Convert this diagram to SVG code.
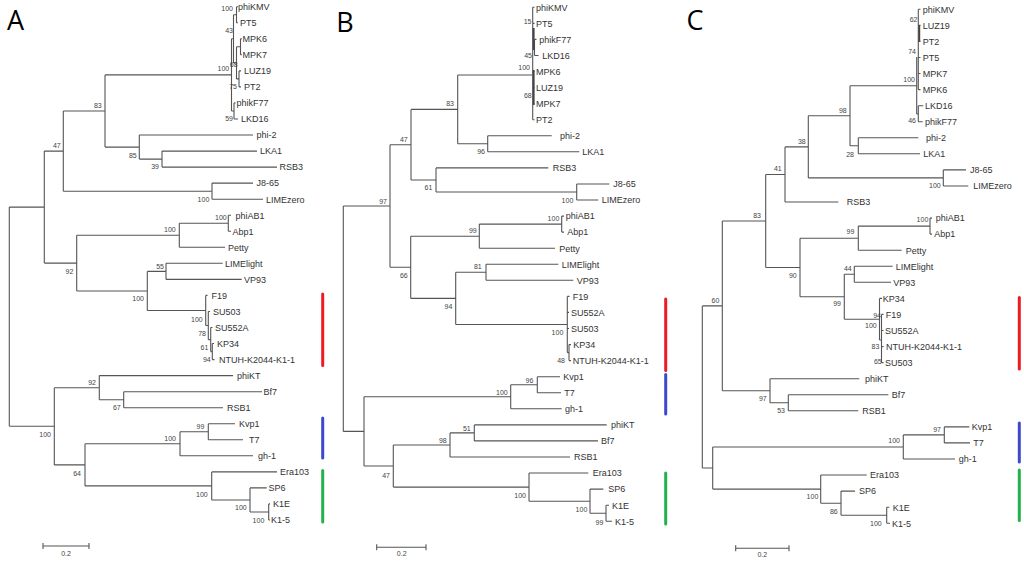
<svg xmlns="http://www.w3.org/2000/svg" width="1024" height="563" viewBox="0 0 1024 563">
<style>
.t{fill:none;stroke:#555;stroke-width:1.1}
.tk{fill:none;stroke:#444;stroke-width:1.8}
.lf{font-family:"Liberation Sans",Arial,sans-serif;font-size:9px;fill:#333}
.bs{font-family:"Liberation Sans",Arial,sans-serif;font-size:7px;fill:#444;text-anchor:end}
.sc{font-family:"Liberation Sans",Arial,sans-serif;font-size:7px;fill:#444;text-anchor:middle}
.pl{font-family:"Open Sans","Liberation Sans",Arial,sans-serif;font-size:27px;fill:#000;text-anchor:middle}
.bar{fill:none;stroke-width:3;stroke-linecap:round}
</style>
<rect width="1024" height="563" fill="#fff"/>

<!-- ============ PANEL A ============ -->
<g id="panelA">
<text class="pl" x="15.5" y="30">A</text>
<g id="A-connectors">
<path class="t" d="M9.3 207.1V426.3M9.3 207.1H44.3M9.3 426.3H54.3
M44.3 151.1V263.1M44.3 151.1H63.3M44.3 263.1H76.7
M63.3 111V191.2M63.3 111H105M63.3 191.2H212
M105 74.9V147.1M105 74.9H231.5M105 147.1H139.3
M231.5 38.8V111M231.5 38.8H233.5M231.5 111H234
M233.5 14.7V62.9M233.5 14.7H236.5M233.5 62.9H236.5
M236.5 6.7V22.7M236.5 6.7H238M236.5 22.7H238
M236.5 46.8V78.9M236.5 46.8H240.5M236.5 78.9H239
M240.5 38.8V54.8M240.5 38.8H242M240.5 54.8H242
M239 70.9V86.9M239 70.9H241M239 86.9H241
M234 102.9V119M234 102.9H235.5M234 119H238
M139.3 135V159.1M139.3 135H253M139.3 159.1H162
M162 151.1V167.1M162 151.1H257M162 167.1H277
M212 183.1V199.2M212 183.1H253M212 199.2H263
M76.7 235.3V291M76.7 235.3H179.3M76.7 291H147.3
M179.3 223.3V247.3M179.3 223.3H228.3M179.3 247.3H225
M228.3 215.2V231.3M228.3 215.2H231M228.3 231.3H231
M147.3 271.4V310.5M147.3 271.4H166M147.3 310.5H205.7
M166 263.3V279.4M166 263.3H222.7M166 279.4H241.7
M205.7 295.4V325.5M205.7 295.4H207.5M205.7 325.5H208.3
M208.3 311.5V339.6M208.3 311.5H210M208.3 339.6H210.7
M210.7 327.5V351.6M210.7 327.5H212.5M210.7 351.6H212.3
M212.3 343.5V359.6M212.3 343.5H214M212.3 359.6H214.5
M54.3 387.7V464.9M54.3 387.7H99.3M54.3 464.9H85
M99.3 375.6V399.7M99.3 375.6H233M99.3 399.7H123.7
M123.7 391.7V407.7M123.7 391.7H262M123.7 407.7H223
M85 443.8V485.9M85 443.8H180M85 485.9H211.7
M180 431.8V455.8M180 431.8H208.3M180 455.8H253
M208.3 423.7V439.8M208.3 423.7H235M208.3 439.8H243
M211.7 471.9V500M211.7 471.9H277M211.7 500H250
M250 487.9V512M250 487.9H266.7M250 512H268.7
M268.7 503.9V520M268.7 503.9H270M268.7 520H270
M43 546H89M43 543V549M89 543V549"/>
</g>
<g id="A-support">
<text class="bs" x="233" y="10.5">100</text>
<text class="bs" x="233" y="33.2">43</text>
<text class="bs" x="229.2" y="71">100</text>
<text class="bs" x="237.6" y="66.5">68</text>
<text class="bs" x="237" y="88.5">75</text>
<text class="bs" x="233" y="120.5">59</text>
<text class="bs" x="101.7" y="107.5">83</text>
<text class="bs" x="60.7" y="147.5">47</text>
<text class="bs" x="136.7" y="157.5">85</text>
<text class="bs" x="159" y="169.2">39</text>
<text class="bs" x="209.3" y="201.5">100</text>
<text class="bs" x="226.7" y="219.8">100</text>
<text class="bs" x="175.7" y="231.8">100</text>
<text class="bs" x="73.3" y="273.5">92</text>
<text class="bs" x="164" y="268.5">55</text>
<text class="bs" x="144" y="300.8">100</text>
<text class="bs" x="202.7" y="321.5">100</text>
<text class="bs" x="206" y="335.8">78</text>
<text class="bs" x="208.3" y="349.8">61</text>
<text class="bs" x="210.7" y="361.5">94</text>
<text class="bs" x="96" y="384.8">92</text>
<text class="bs" x="120.7" y="410.2">67</text>
<text class="bs" x="51" y="436.5">100</text>
<text class="bs" x="204.3" y="428.5">99</text>
<text class="bs" x="176" y="440.8">100</text>
<text class="bs" x="81" y="475.8">64</text>
<text class="bs" x="207.7" y="496.5">100</text>
<text class="bs" x="246.7" y="510.2">100</text>
<text class="bs" x="264.3" y="523.2">100</text>
<text class="sc" x="66" y="555.5">0.2</text>
</g>
<g id="A-phiKMV"><text class="lf" x="238" y="10">phiKMV</text></g>
<g id="A-PT5"><text class="lf" x="240" y="26">PT5</text></g>
<g id="A-MPK6"><text class="lf" x="242.5" y="42.1">MPK6</text></g>
<g id="A-MPK7"><text class="lf" x="242.5" y="58.1">MPK7</text></g>
<g id="A-LUZ19"><text class="lf" x="244" y="74.2">LUZ19</text></g>
<g id="A-PT2"><text class="lf" x="244" y="90.2">PT2</text></g>
<g id="A-phikF77"><text class="lf" x="236.5" y="106.2">phikF77</text></g>
<g id="A-LKD16"><text class="lf" x="241" y="122.3">LKD16</text></g>
<g id="A-phi-2"><text class="lf" x="256.5" y="138.3">phi-2</text></g>
<g id="A-LKA1"><text class="lf" x="260" y="154.4">LKA1</text></g>
<g id="A-RSB3"><text class="lf" x="279.5" y="170.4">RSB3</text></g>
<g id="A-J8-65"><text class="lf" x="256.5" y="186.4">J8-65</text></g>
<g id="A-LIMEzero"><text class="lf" x="266" y="202.5">LIMEzero</text></g>
<g id="A-phiAB1"><text class="lf" x="235.5" y="218.5">phiAB1</text></g>
<g id="A-Abp1"><text class="lf" x="232.5" y="234.6">Abp1</text></g>
<g id="A-Petty"><text class="lf" x="228" y="250.6">Petty</text></g>
<g id="A-LIMElight"><text class="lf" x="225" y="266.6">LIMElight</text></g>
<g id="A-VP93"><text class="lf" x="244" y="282.7">VP93</text></g>
<g id="A-F19"><text class="lf" x="211.5" y="298.7">F19</text></g>
<g id="A-SU503"><text class="lf" x="213" y="314.8">SU503</text></g>
<g id="A-SU552A"><text class="lf" x="215" y="330.8">SU552A</text></g>
<g id="A-KP34"><text class="lf" x="217" y="346.8">KP34</text></g>
<g id="A-NTUH"><text class="lf" x="219" y="362.9">NTUH-K2044-K1-1</text></g>
<g id="A-phiKT"><text class="lf" x="237" y="378.9">phiKT</text></g>
<g id="A-Bf7"><text class="lf" x="263.5" y="395">Bf7</text></g>
<g id="A-RSB1"><text class="lf" x="227" y="411">RSB1</text></g>
<g id="A-Kvp1"><text class="lf" x="239" y="427">Kvp1</text></g>
<g id="A-T7"><text class="lf" x="249" y="443.1">T7</text></g>
<g id="A-gh-1"><text class="lf" x="258" y="459.1">gh-1</text></g>
<g id="A-Era103"><text class="lf" x="280" y="475.2">Era103</text></g>
<g id="A-SP6"><text class="lf" x="268.5" y="491.2">SP6</text></g>
<g id="A-K1E"><text class="lf" x="273" y="507.2">K1E</text></g>
<g id="A-K1-5"><text class="lf" x="271" y="523.3">K1-5</text></g>
<g id="A-bars">
<path class="bar" stroke="#ed1c24" d="M322.7 294V365.5"/>
<path class="bar" stroke="#3f48cc" d="M322.7 418V458"/>
<path class="bar" stroke="#22b14c" d="M322.7 470.5V522"/>
</g>
</g>

<!-- ============ PANEL B ============ -->
<g id="panelB">
<text class="pl" x="345" y="32">B</text>
<g id="B-connectors">
<path class="t" d="M343.3 206V431.4M343.3 206H390M343.3 431.4H364
M390 144.7V267.3M390 144.7H411M390 267.3H410.7
M411 109.4V180M411 109.4H457.7M411 180H436
M457.7 75V143.8M457.7 75H532.7M457.7 143.8H487.7
M532.7 7.3V119.7M532.7 7.3H534.5M532.7 23.4H534.5M532.7 71.5H534.5M532.7 87.6H534.5M532.7 103.7H534.5M532.7 119.7H534.5
M532.7 47.5H534.5M534.5 39.4V55.5M534.5 39.4H536.5M534.5 55.5H538.5
M487.7 135.8V151.8M487.7 135.8H551.7M487.7 151.8H579.3
M436 167.9V192M436 167.9H548.3M436 192H576.7
M576.7 184V200M576.7 184H609.3M576.7 200H598.3
M410.7 236.2V298.4M410.7 236.2H479.3M410.7 298.4H455.7
M479.3 224.1V248.2M479.3 224.1H561.7M479.3 248.2H555
M561.7 216.1V232.1M561.7 216.1H564M561.7 232.1H564
M455.7 272.3V324.5M455.7 272.3H486M455.7 324.5H567.3
M486 264.3V280.3M486 264.3H558.3M486 280.3H573.3
M567.3 296.4V352.6M567.3 296.4H569.5M567.3 312.4H569M567.3 328.5H569M567.3 352.6H569
M569 344.6V360.6M569 344.6H571M569 360.6H571
M364 396.8V466M364 396.8H510.7M364 466H393.3
M510.7 384.7V408.8M510.7 384.7H537.3M510.7 408.8H561.7
M537.3 376.7V392.7M537.3 376.7H560M537.3 392.7H561
M393.3 445V487.1M393.3 445H450M393.3 487.1H529
M450 432.9V457M450 432.9H474.3M450 457H570
M474.3 424.9V440.9M474.3 424.9H606.7M474.3 440.9H598
M529 473V501.2M529 473H588.3M529 501.2H590
M590 489.1V513.2M590 489.1H603.3M590 513.2H606
M606 505.2V521.2M606 505.2H609M606 521.2H612
M376.7 547.3H426M376.7 544.3V550.3M426 544.3V550.3"/>
<path class="tk" d="M533.7 28V50M533.7 70V105"/>
</g>
<g id="B-support">
<text class="bs" x="531.5" y="24.2">15</text>
<text class="bs" x="532" y="57.5">45</text>
<text class="bs" x="530" y="70.2">100</text>
<text class="bs" x="531.7" y="98.2">68</text>
<text class="bs" x="454" y="105.8">83</text>
<text class="bs" x="485" y="154.2">96</text>
<text class="bs" x="407.7" y="141.5">47</text>
<text class="bs" x="432.3" y="189.8">61</text>
<text class="bs" x="573.3" y="202.5">100</text>
<text class="bs" x="387" y="203.5">97</text>
<text class="bs" x="559.3" y="220.8">100</text>
<text class="bs" x="476.7" y="233.2">99</text>
<text class="bs" x="407.7" y="278.2">66</text>
<text class="bs" x="481.7" y="269.2">81</text>
<text class="bs" x="452.3" y="309.2">94</text>
<text class="bs" x="563.3" y="334.8">100</text>
<text class="bs" x="565" y="362.5">48</text>
<text class="bs" x="533.3" y="382.5">96</text>
<text class="bs" x="507.7" y="394.8">100</text>
<text class="bs" x="470.7" y="430.8">51</text>
<text class="bs" x="446.7" y="442.5">98</text>
<text class="bs" x="390" y="477.5">47</text>
<text class="bs" x="526" y="498.2">100</text>
<text class="bs" x="587.3" y="511.8">100</text>
<text class="bs" x="603.3" y="525.2">99</text>
<text class="sc" x="401.7" y="556">0.2</text>
</g>
<g id="B-phiKMV"><text class="lf" x="536" y="10.6">phiKMV</text></g>
<g id="B-PT5"><text class="lf" x="536" y="26.7">PT5</text></g>
<g id="B-phikF77"><text class="lf" x="539.3" y="42.7">phikF77</text></g>
<g id="B-LKD16"><text class="lf" x="542.3" y="58.8">LKD16</text></g>
<g id="B-MPK6"><text class="lf" x="536" y="74.8">MPK6</text></g>
<g id="B-LUZ19"><text class="lf" x="536" y="90.9">LUZ19</text></g>
<g id="B-MPK7"><text class="lf" x="536" y="107">MPK7</text></g>
<g id="B-PT2"><text class="lf" x="536" y="123">PT2</text></g>
<g id="B-phi-2"><text class="lf" x="560" y="139.1">phi-2</text></g>
<g id="B-LKA1"><text class="lf" x="582.3" y="155.1">LKA1</text></g>
<g id="B-RSB3"><text class="lf" x="552.7" y="171.2">RSB3</text></g>
<g id="B-J8-65"><text class="lf" x="613.3" y="187.3">J8-65</text></g>
<g id="B-LIMEzero"><text class="lf" x="601.7" y="203.3">LIMEzero</text></g>
<g id="B-phiAB1"><text class="lf" x="565.7" y="219.4">phiAB1</text></g>
<g id="B-Abp1"><text class="lf" x="567.3" y="235.4">Abp1</text></g>
<g id="B-Petty"><text class="lf" x="559.3" y="251.5">Petty</text></g>
<g id="B-LIMElight"><text class="lf" x="561.7" y="267.6">LIMElight</text></g>
<g id="B-VP93"><text class="lf" x="576.7" y="283.6">VP93</text></g>
<g id="B-F19"><text class="lf" x="572.7" y="299.7">F19</text></g>
<g id="B-SU552A"><text class="lf" x="571" y="315.7">SU552A</text></g>
<g id="B-SU503"><text class="lf" x="571" y="331.8">SU503</text></g>
<g id="B-KP34"><text class="lf" x="573.3" y="347.9">KP34</text></g>
<g id="B-NTUH"><text class="lf" x="572.7" y="363.9">NTUH-K2044-K1-1</text></g>
<g id="B-Kvp1"><text class="lf" x="563.3" y="380">Kvp1</text></g>
<g id="B-T7"><text class="lf" x="564.3" y="396">T7</text></g>
<g id="B-gh-1"><text class="lf" x="565" y="412.1">gh-1</text></g>
<g id="B-phiKT"><text class="lf" x="611" y="428.2">phiKT</text></g>
<g id="B-Bf7"><text class="lf" x="601" y="444.2">Bf7</text></g>
<g id="B-RSB1"><text class="lf" x="574" y="460.3">RSB1</text></g>
<g id="B-Era103"><text class="lf" x="592.7" y="476.3">Era103</text></g>
<g id="B-SP6"><text class="lf" x="608.3" y="492.4">SP6</text></g>
<g id="B-K1E"><text class="lf" x="612" y="508.5">K1E</text></g>
<g id="B-K1-5"><text class="lf" x="615" y="524.5">K1-5</text></g>
<g id="B-bars">
<path class="bar" stroke="#ed1c24" d="M665.7 299V370.5"/>
<path class="bar" stroke="#3f48cc" d="M665.7 374.5V414"/>
<path class="bar" stroke="#22b14c" d="M665.7 473V524"/>
</g>
</g>

<!-- ============ PANEL C ============ -->
<g id="panelC">
<text class="pl" x="695" y="30">C</text>
<g id="C-connectors">
<path class="t" d="M702.3 305.9V468M702.3 305.9H722.3M702.3 468H712.7
M722.3 221V390.7M722.3 221H765.7M722.3 390.7H770
M765.7 174.5V267.5M765.7 174.5H785M765.7 267.5H800
M785 146.9V202M785 146.9H808.3M785 202H838.3
M808.3 115.8V177.9M808.3 115.8H850M808.3 177.9H943.3
M850 85.7V145.8M850 85.7H916.7M850 145.8H858.3
M918.3 9.3V89.6M916.7 57V114M916.7 114H918.3M918.3 105.7V121.7
M918.3 9.3H920.5M918.3 25.4H920.5M918.3 41.4H920.5M918.3 57.5H920.5M918.3 73.5H920.5M918.3 89.6H920.5
M918.3 105.7H923.3M918.3 121.7H922.7
M858.3 137.8V153.8M858.3 137.8H918.3M858.3 153.8H920
M943.3 169.9V186M943.3 169.9H966M943.3 186H968.3
M800 238.2V296.8M800 238.2H858.3M800 296.8H844.3
M858.3 226.1V250.2M858.3 226.1H930M858.3 250.2H901.7
M930 218.1V234.1M930 218.1H932M930 234.1H932
M844.3 274.3V319.3M844.3 274.3H854.3M844.3 319.3H879.5
M854.3 266.3V282.3M854.3 266.3H892.7M854.3 282.3H891
M879.5 298.4V340M879.5 298.4H882M879.5 340H881.5
M881.5 314.4V362.6M881.5 314.4H883.5M881.5 330.5H883.5M881.5 346.6H883.5M881.5 362.6H883.5
M770 378.7V402.8M770 378.7H859.3M770 402.8H788.3
M788.3 394.7V410.8M788.3 394.7H888.3M788.3 410.8H858.3
M712.7 447V489.1M712.7 447H903.3M712.7 489.1H820.7
M903.3 434.9V459M903.3 434.9H944.3M903.3 459H955
M944.3 426.9V442.9M944.3 426.9H969.3M944.3 442.9H970
M820.7 475V503.2M820.7 475H866.7M820.7 503.2H841
M841 491.1V515.2M841 491.1H855M841 515.2H886.7
M886.7 507.2V523.2M886.7 507.2H889.3M886.7 523.2H890
M735.7 548.3H789M735.7 545.3V551.3M789 545.3V551.3"/>
<path class="tk" d="M919.3 25.4V41.4"/>
</g>
<g id="C-support">
<text class="bs" x="917.5" y="21.5">62</text>
<text class="bs" x="916" y="54.2">74</text>
<text class="bs" x="915" y="81.5">100</text>
<text class="bs" x="916" y="123.2">46</text>
<text class="bs" x="846.7" y="112.5">98</text>
<text class="bs" x="854" y="156.5">28</text>
<text class="bs" x="805.7" y="143.5">38</text>
<text class="bs" x="781.7" y="170.8">41</text>
<text class="bs" x="940.7" y="188.2">100</text>
<text class="bs" x="761" y="217.5">83</text>
<text class="bs" x="928.3" y="221.8">100</text>
<text class="bs" x="854.3" y="234.2">99</text>
<text class="bs" x="796.7" y="277.5">90</text>
<text class="bs" x="851.7" y="270.8">44</text>
<text class="bs" x="841" y="305.8">99</text>
<text class="bs" x="876.7" y="328.2">100</text>
<text class="bs" x="881" y="317.5">94</text>
<text class="bs" x="879.3" y="348.5">83</text>
<text class="bs" x="881.7" y="364.2">65</text>
<text class="bs" x="719.3" y="302.5">60</text>
<text class="bs" x="766.7" y="400.8">97</text>
<text class="bs" x="785" y="412.5">53</text>
<text class="bs" x="900" y="443.2">100</text>
<text class="bs" x="941" y="431.5">97</text>
<text class="bs" x="818.3" y="499.2">100</text>
<text class="bs" x="837.7" y="513.5">86</text>
<text class="bs" x="881.7" y="525.8">100</text>
<text class="sc" x="762.3" y="557">0.2</text>
</g>
<g id="C-phiKMV"><text class="lf" x="922.7" y="12.6">phiKMV</text></g>
<g id="C-LUZ19"><text class="lf" x="922.7" y="28.7">LUZ19</text></g>
<g id="C-PT2"><text class="lf" x="922.7" y="44.7">PT2</text></g>
<g id="C-PT5"><text class="lf" x="922.7" y="60.8">PT5</text></g>
<g id="C-MPK7"><text class="lf" x="922.7" y="76.8">MPK7</text></g>
<g id="C-MPK6"><text class="lf" x="922.7" y="92.9">MPK6</text></g>
<g id="C-LKD16"><text class="lf" x="925" y="109">LKD16</text></g>
<g id="C-phikF77"><text class="lf" x="925" y="125">phikF77</text></g>
<g id="C-phi-2"><text class="lf" x="926" y="141.1">phi-2</text></g>
<g id="C-LKA1"><text class="lf" x="923.3" y="157.1">LKA1</text></g>
<g id="C-J8-65"><text class="lf" x="970" y="173.2">J8-65</text></g>
<g id="C-LIMEzero"><text class="lf" x="973.3" y="189.3">LIMEzero</text></g>
<g id="C-RSB3"><text class="lf" x="846.7" y="205.3">RSB3</text></g>
<g id="C-phiAB1"><text class="lf" x="935.7" y="221.4">phiAB1</text></g>
<g id="C-Abp1"><text class="lf" x="934.3" y="237.4">Abp1</text></g>
<g id="C-Petty"><text class="lf" x="905.7" y="253.5">Petty</text></g>
<g id="C-LIMElight"><text class="lf" x="895.7" y="269.6">LIMElight</text></g>
<g id="C-VP93"><text class="lf" x="893.3" y="285.6">VP93</text></g>
<g id="C-KP34"><text class="lf" x="882.7" y="301.7">KP34</text></g>
<g id="C-F19"><text class="lf" x="885.7" y="317.7">F19</text></g>
<g id="C-SU552A"><text class="lf" x="885" y="333.8">SU552A</text></g>
<g id="C-NTUH"><text class="lf" x="886" y="349.9">NTUH-K2044-K1-1</text></g>
<g id="C-SU503"><text class="lf" x="885" y="365.9">SU503</text></g>
<g id="C-phiKT"><text class="lf" x="865" y="382">phiKT</text></g>
<g id="C-Bf7"><text class="lf" x="891.7" y="398">Bf7</text></g>
<g id="C-RSB1"><text class="lf" x="862.3" y="414.1">RSB1</text></g>
<g id="C-Kvp1"><text class="lf" x="971.7" y="430.2">Kvp1</text></g>
<g id="C-T7"><text class="lf" x="973.3" y="446.2">T7</text></g>
<g id="C-gh-1"><text class="lf" x="958.7" y="462.3">gh-1</text></g>
<g id="C-Era103"><text class="lf" x="870" y="478.3">Era103</text></g>
<g id="C-SP6"><text class="lf" x="859" y="494.4">SP6</text></g>
<g id="C-K1E"><text class="lf" x="892.7" y="510.5">K1E</text></g>
<g id="C-K1-5"><text class="lf" x="892" y="526.5">K1-5</text></g>
<g id="C-bars">
<path class="bar" stroke="#ed1c24" d="M1019.3 297.5V369"/>
<path class="bar" stroke="#3f48cc" d="M1019.3 423V462"/>
<path class="bar" stroke="#22b14c" d="M1019.3 470V520.5"/>
</g>
</g>
</svg>
